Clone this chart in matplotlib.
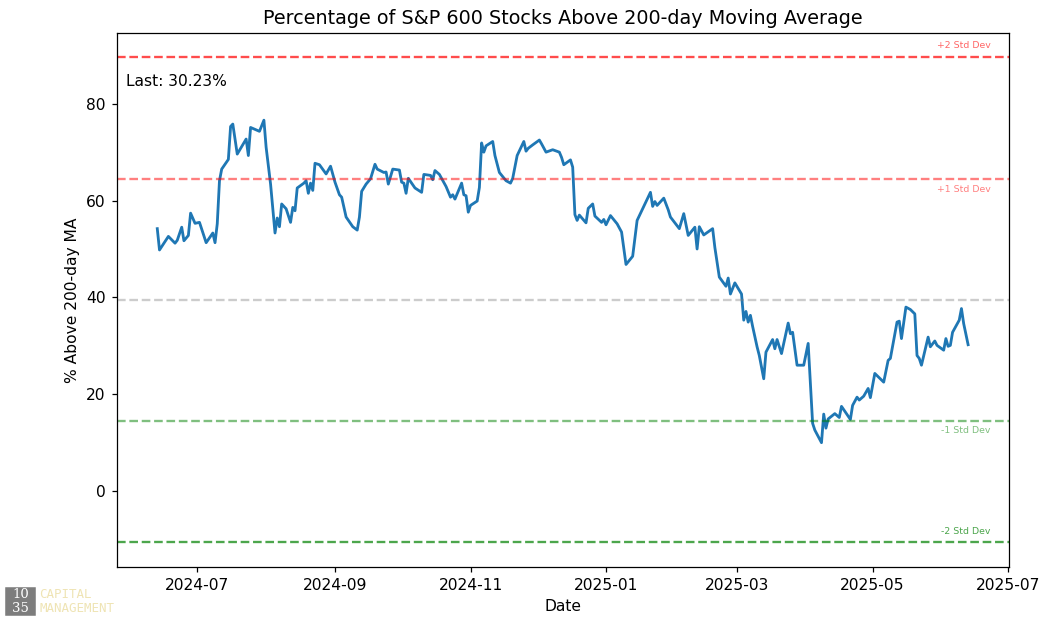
import matplotlib
matplotlib.use("Agg")
import matplotlib.pyplot as plt
import matplotlib.dates as mdates
import pandas as pd
from matplotlib.patches import Rectangle

# % of S&P 600 stocks above 200-day MA
dates = [
    "2024-06-13", "2024-06-14", "2024-06-18", "2024-06-21", "2024-06-22", "2024-06-24",
    "2024-06-25", "2024-06-27", "2024-06-28", "2024-06-30", "2024-07-02", "2024-07-05",
    "2024-07-08", "2024-07-09", "2024-07-10", "2024-07-11", "2024-07-12", "2024-07-15",
    "2024-07-16", "2024-07-17", "2024-07-19", "2024-07-23", "2024-07-24", "2024-07-25",
    "2024-07-29", "2024-07-31", "2024-08-01", "2024-08-03", "2024-08-05", "2024-08-06",
    "2024-08-07", "2024-08-08", "2024-08-10", "2024-08-12", "2024-08-13", "2024-08-14",
    "2024-08-15", "2024-08-18", "2024-08-19", "2024-08-20", "2024-08-21", "2024-08-22",
    "2024-08-23", "2024-08-25", "2024-08-28", "2024-08-30", "2024-09-01", "2024-09-03",
    "2024-09-04", "2024-09-06", "2024-09-09", "2024-09-11", "2024-09-12", "2024-09-13",
    "2024-09-15", "2024-09-17", "2024-09-19", "2024-09-20", "2024-09-23", "2024-09-24",
    "2024-09-25", "2024-09-27", "2024-09-30", "2024-10-01", "2024-10-02", "2024-10-03",
    "2024-10-04", "2024-10-07", "2024-10-10", "2024-10-11", "2024-10-14", "2024-10-15",
    "2024-10-16", "2024-10-18", "2024-10-21", "2024-10-23", "2024-10-24", "2024-10-25",
    "2024-10-28", "2024-10-29", "2024-10-30", "2024-10-31", "2024-11-01", "2024-11-04",
    "2024-11-05", "2024-11-06", "2024-11-07", "2024-11-08", "2024-11-11", "2024-11-12",
    "2024-11-14", "2024-11-17", "2024-11-19", "2024-11-20", "2024-11-22", "2024-11-25",
    "2024-11-26", "2024-11-27", "2024-11-29", "2024-12-02", "2024-12-03", "2024-12-05",
    "2024-12-08", "2024-12-11", "2024-12-12", "2024-12-13", "2024-12-16", "2024-12-17",
    "2024-12-18", "2024-12-19", "2024-12-20", "2024-12-23", "2024-12-24", "2024-12-26",
    "2024-12-27", "2024-12-30", "2024-12-31", "2025-01-01", "2025-01-03", "2025-01-06",
    "2025-01-08", "2025-01-10", "2025-01-13", "2025-01-15", "2025-01-18", "2025-01-21",
    "2025-01-22", "2025-01-23", "2025-01-24", "2025-01-27", "2025-01-29", "2025-01-30",
    "2025-02-03", "2025-02-05", "2025-02-07", "2025-02-10", "2025-02-11", "2025-02-12",
    "2025-02-14", "2025-02-18", "2025-02-19", "2025-02-21", "2025-02-24", "2025-02-25",
    "2025-02-26", "2025-02-28", "2025-03-03", "2025-03-04", "2025-03-05", "2025-03-06",
    "2025-03-07", "2025-03-08", "2025-03-10", "2025-03-11", "2025-03-13", "2025-03-14",
    "2025-03-17", "2025-03-18", "2025-03-19", "2025-03-21", "2025-03-24", "2025-03-25",
    "2025-03-26", "2025-03-28", "2025-03-31", "2025-04-02", "2025-04-04", "2025-04-05",
    "2025-04-08", "2025-04-09", "2025-04-10", "2025-04-11", "2025-04-14", "2025-04-16",
    "2025-04-17", "2025-04-21", "2025-04-22", "2025-04-24", "2025-04-25", "2025-04-27",
    "2025-04-29", "2025-04-30", "2025-05-02", "2025-05-06", "2025-05-08", "2025-05-09",
    "2025-05-12", "2025-05-13", "2025-05-14", "2025-05-16", "2025-05-18", "2025-05-20",
    "2025-05-21", "2025-05-22", "2025-05-23", "2025-05-26", "2025-05-27", "2025-05-29",
    "2025-05-30", "2025-06-02", "2025-06-03", "2025-06-04", "2025-06-05", "2025-06-06",
    "2025-06-09", "2025-06-10", "2025-06-11", "2025-06-13",
]
pct_above = [
    54.2, 49.8, 52.6, 51.2, 51.8, 54.5,
    51.7, 52.8, 57.4, 55.3, 55.5, 51.3,
    53.3, 51.3, 55.2, 64.1, 66.5, 68.5,
    75.3, 75.8, 69.6, 72.7, 69.3, 75.1,
    74.3, 76.6, 71.0, 63.4, 53.3, 56.4,
    54.6, 59.3, 58.3, 55.5, 58.6, 57.9,
    62.6, 63.6, 64.1, 61.5, 63.6, 62.1,
    67.7, 67.4, 65.5, 67.1, 63.8, 61.2,
    60.7, 56.6, 54.6, 53.9, 56.6, 61.9,
    63.4, 64.5, 67.5, 66.5, 65.8, 65.9,
    63.4, 66.5, 66.3, 63.8, 63.6, 61.5,
    64.6, 62.6, 61.7, 65.4, 65.2, 64.3,
    66.2, 65.4, 62.9, 60.7, 61.2, 60.3,
    63.6, 61.2, 61.0, 57.6, 59.0, 59.9,
    62.7, 71.9, 70.0, 71.3, 72.2, 69.3,
    65.8, 64.1, 63.6, 64.6, 69.3, 72.2,
    70.2, 70.8, 71.5, 72.5, 71.7, 70.0,
    70.5, 70.0, 68.9, 67.4, 68.4, 66.9,
    57.1, 55.9, 57.0, 55.4, 58.4, 59.3,
    56.8, 55.5, 56.1, 55.0, 56.9, 55.2,
    53.5, 46.8, 48.5, 55.9, 58.8, 61.7,
    58.8, 59.8, 59.0, 60.5, 58.1, 56.6,
    54.2, 57.3, 52.8, 54.5, 50.0, 54.6,
    52.9, 54.2, 50.3, 44.2, 42.3, 44.0,
    40.7, 43.0, 40.7, 35.3, 37.1, 34.9,
    36.3, 34.0, 29.8, 28.0, 23.2, 28.7,
    31.3, 29.4, 31.3, 28.4, 34.7, 32.5,
    32.8, 26.0, 26.0, 30.5, 14.0, 12.6,
    10.0, 15.9, 13.0, 14.9, 16.0, 15.2,
    17.5, 14.8, 17.7, 19.4, 18.8, 19.6,
    21.2, 19.3, 24.3, 22.5, 27.0, 27.4,
    34.9, 35.1, 31.5, 38.0, 37.5, 36.6,
    28.0, 27.4, 26.0, 31.8, 29.8, 31.0,
    30.1, 29.1, 31.5, 29.9, 30.1, 32.8,
    35.3, 37.7, 34.6, 30.23,
]

avg_pct = 39.5
std_pct = 25.05

df = pd.DataFrame({"date": pd.to_datetime(dates), "pct": pct_above})

fig = plt.figure(figsize=(1046 / 112, 620 / 112), dpi=112)
ax = fig.add_axes([0.1116, 0.086, 0.9643 - 0.1116, 0.9468 - 0.086])

ax.plot(df["date"], df["pct"], color="#1f77b4", linewidth=1.8)

# mean / std bands
ax.axhline(avg_pct, color="gray", linestyle="--", alpha=0.4, linewidth=1.5)
ax.axhline(avg_pct + 2 * std_pct, color="red", linestyle="--", alpha=0.7, linewidth=1.5)
ax.axhline(avg_pct + std_pct, color="red", linestyle="--", alpha=0.5, linewidth=1.5)
ax.axhline(avg_pct - std_pct, color="green", linestyle="--", alpha=0.5, linewidth=1.5)
ax.axhline(avg_pct - 2 * std_pct, color="green", linestyle="--", alpha=0.7, linewidth=1.5)

trans = ax.get_yaxis_transform()
ax.text(0.98, avg_pct + 2 * std_pct + 2.4, "+2 Std Dev", color="red", alpha=0.6,
        fontsize=6, ha="right", va="center", transform=trans)
ax.text(0.98, avg_pct + std_pct - 2.2, "+1 Std Dev", color="red", alpha=0.5,
        fontsize=6, ha="right", va="center", transform=trans)
ax.text(0.98, avg_pct - std_pct - 1.9, "-1 Std Dev", color="green", alpha=0.5,
        fontsize=6, ha="right", va="center", transform=trans)
ax.text(0.98, avg_pct - 2 * std_pct + 2.3, "-2 Std Dev", color="green", alpha=0.7,
        fontsize=6, ha="right", va="center", transform=trans)

ax.text(0.01, 0.9, f"Last: {pct_above[-1]:.2f}%", transform=ax.transAxes, fontsize=10)

ax.set_title("Percentage of S&P 600 Stocks Above 200-day Moving Average", fontsize=12.3)
ax.set_xlabel("Date")
ax.set_ylabel("% Above 200-day MA")
ax.xaxis.set_major_locator(mdates.MonthLocator(bymonth=[1, 3, 5, 7, 9, 11]))
ax.xaxis.set_major_formatter(mdates.DateFormatter("%Y-%m"))

# watermark logo bottom left
fig.patches.append(Rectangle((6 / 1046, 5 / 620), 29 / 1046, 27 / 620,
                             transform=fig.transFigure, color="#7d7d7d", zorder=5))
fig.text(20.5 / 1046, 25 / 620, "10", color="white", fontsize=8.5, family="DejaVu Serif",
         ha="center", va="center", zorder=6)
fig.text(20.5 / 1046, 12 / 620, "35", color="white", fontsize=8.5, family="DejaVu Serif",
         ha="center", va="center", zorder=6)
fig.text(39 / 1046, 25 / 620, "CAPITAL", color="#efe4b4", fontsize=8,
         family="DejaVu Sans Mono", ha="left", va="center")
fig.text(39 / 1046, 12 / 620, "MANAGEMENT", color="#efe4b4", fontsize=8,
         family="DejaVu Sans Mono", ha="left", va="center")

fig.savefig("out.png", dpi=112)
